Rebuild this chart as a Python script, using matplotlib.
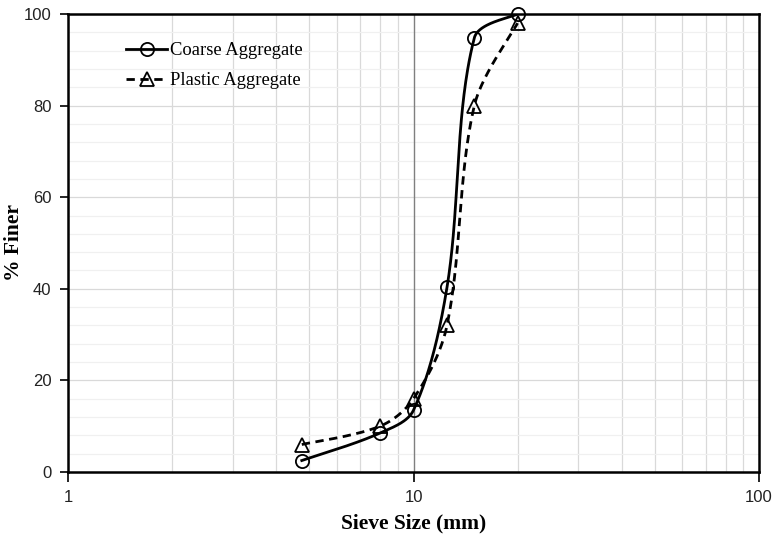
import numpy as np
import matplotlib.pyplot as plt
from matplotlib.ticker import FixedLocator, NullFormatter, MultipleLocator

# sieve data
sieve_mm = [4.75, 8, 10, 12.5, 15, 20]
coarse_finer = [2.5, 8.5, 13.5, 40.3, 94.8, 100]
plastic_finer = [6, 10, 16, 32, 80, 98]

# screen scale used for smoothing (px per decade, px per % finer)
PX_DEC = 345.5
PX_PCT = 4.58


def smooth(xs, ys, n=60):
    # Excel-like smoothed line: bezier segments, tangents weighted by segment length (screen space)
    pts = np.column_stack([np.log10(np.array(xs, dtype=float)) * PX_DEC,
                           np.array(ys, dtype=float) * PX_PCT])
    m = len(pts)
    c_out = np.zeros_like(pts)
    c_in = np.zeros_like(pts)
    for i in range(m):
        prev = pts[max(i - 1, 0)]
        nxt = pts[min(i + 1, m - 1)]
        tang = nxt - prev
        l_in = np.hypot(*(pts[i] - prev))
        l_out = np.hypot(*(nxt - pts[i]))
        tot = l_in + l_out
        if i == 0 or i == m - 1:
            c_out[i] = pts[i] + tang / 6.0
            c_in[i] = pts[i] - tang / 6.0
        else:
            c_out[i] = pts[i] + tang * (l_out / tot) / 3.0
            c_in[i] = pts[i] - tang * (l_in / tot) / 3.0
    t = np.linspace(0, 1, n)[:, None]
    out = []
    for i in range(m - 1):
        p1, c1, c2, p2 = pts[i], c_out[i], c_in[i + 1], pts[i + 1]
        seg = (1 - t) ** 3 * p1 + 3 * (1 - t) ** 2 * t * c1 + 3 * (1 - t) * t ** 2 * c2 + t ** 3 * p2
        out.append(seg)
    out = np.vstack(out)
    return 10 ** (out[:, 0] / PX_DEC), out[:, 1] / PX_PCT


fig = plt.figure(figsize=(7.75, 5.38), dpi=100)
ax = fig.add_axes([0.0877, 0.1227, 0.8917, 0.8513])

ax.set_xscale('log')
ax.set_xlim(1, 100)
ax.set_ylim(0, 100)

# gridlines
ax.xaxis.set_major_locator(FixedLocator([1, 10, 100]))
ax.xaxis.set_minor_locator(FixedLocator([2, 3, 4, 5, 6, 7, 8, 9, 20, 30, 40, 50, 60, 70, 80, 90]))
ax.xaxis.set_minor_formatter(NullFormatter())
ax.set_xticklabels(['1', '10', '100'])
ax.yaxis.set_major_locator(MultipleLocator(20))
ax.yaxis.set_minor_locator(MultipleLocator(4))

ax.grid(True, which='minor', axis='y', color='#f0f0f0', lw=0.9)
ax.grid(True, which='major', axis='y', color='#d9d9d9', lw=0.9)
ax.grid(True, which='minor', axis='x', color='#d9d9d9', lw=0.9)
ax.set_axisbelow(True)
ax.axvline(10, color='#7f7f7f', lw=1.0, zorder=1.5)

cx, cy = smooth(sieve_mm, coarse_finer)
px, py = smooth(sieve_mm, plastic_finer)

ax.plot(cx, cy, color='black', lw=2.0, zorder=3)
ax.plot(px, py, color='black', lw=2.0, ls=(0, (3, 2)), zorder=3)
ax.plot(sieve_mm, coarse_finer, ls='none', marker='o', ms=9.5, mfc='none',
        mec='black', mew=1.3, zorder=6, clip_on=False)
ax.plot(sieve_mm, plastic_finer, ls='none', marker='^', ms=9.5, mfc='none',
        mec='black', mew=1.3, zorder=6, clip_on=False)

# legend handles (line + marker)
ax.plot([], [], color='black', lw=2.0, marker='o', ms=9.5, mfc='none', mew=1.3,
        label='Coarse Aggregate')
ax.plot([], [], color='black', lw=2.0, ls=(0, (3, 2)), marker='^', ms=9.5, mfc='none', mew=1.3,
        label='Plastic Aggregate')
leg = ax.legend(loc='upper left', bbox_to_anchor=(0.06, 0.975), frameon=False,
                prop={'family': 'Liberation Serif', 'size': 13.4},
                handlelength=2.2, handletextpad=0.15, labelspacing=0.7)

for s in ax.spines.values():
    s.set_color('black')
    s.set_linewidth(1.8)
    s.set_zorder(5)

ax.tick_params(axis='both', which='major', direction='out', length=6, width=1.2,
               labelsize=12, colors='black', pad=6)
ax.tick_params(axis='x', which='major', length=7)
ax.tick_params(axis='both', which='minor', length=0)
for lbl in ax.get_xticklabels() + ax.get_yticklabels():
    lbl.set_family('Liberation Sans')
    lbl.set_color('#222222')

ax.set_xlabel('Sieve Size (mm)', family='Liberation Serif', fontweight='bold',
              fontsize=15.5, labelpad=6)
ax.set_ylabel('% Finer', family='Liberation Serif', fontweight='bold',
              fontsize=15.5)
ax.yaxis.set_label_coords(-0.064, 0.5)

fig.savefig('out.png', dpi=100)
